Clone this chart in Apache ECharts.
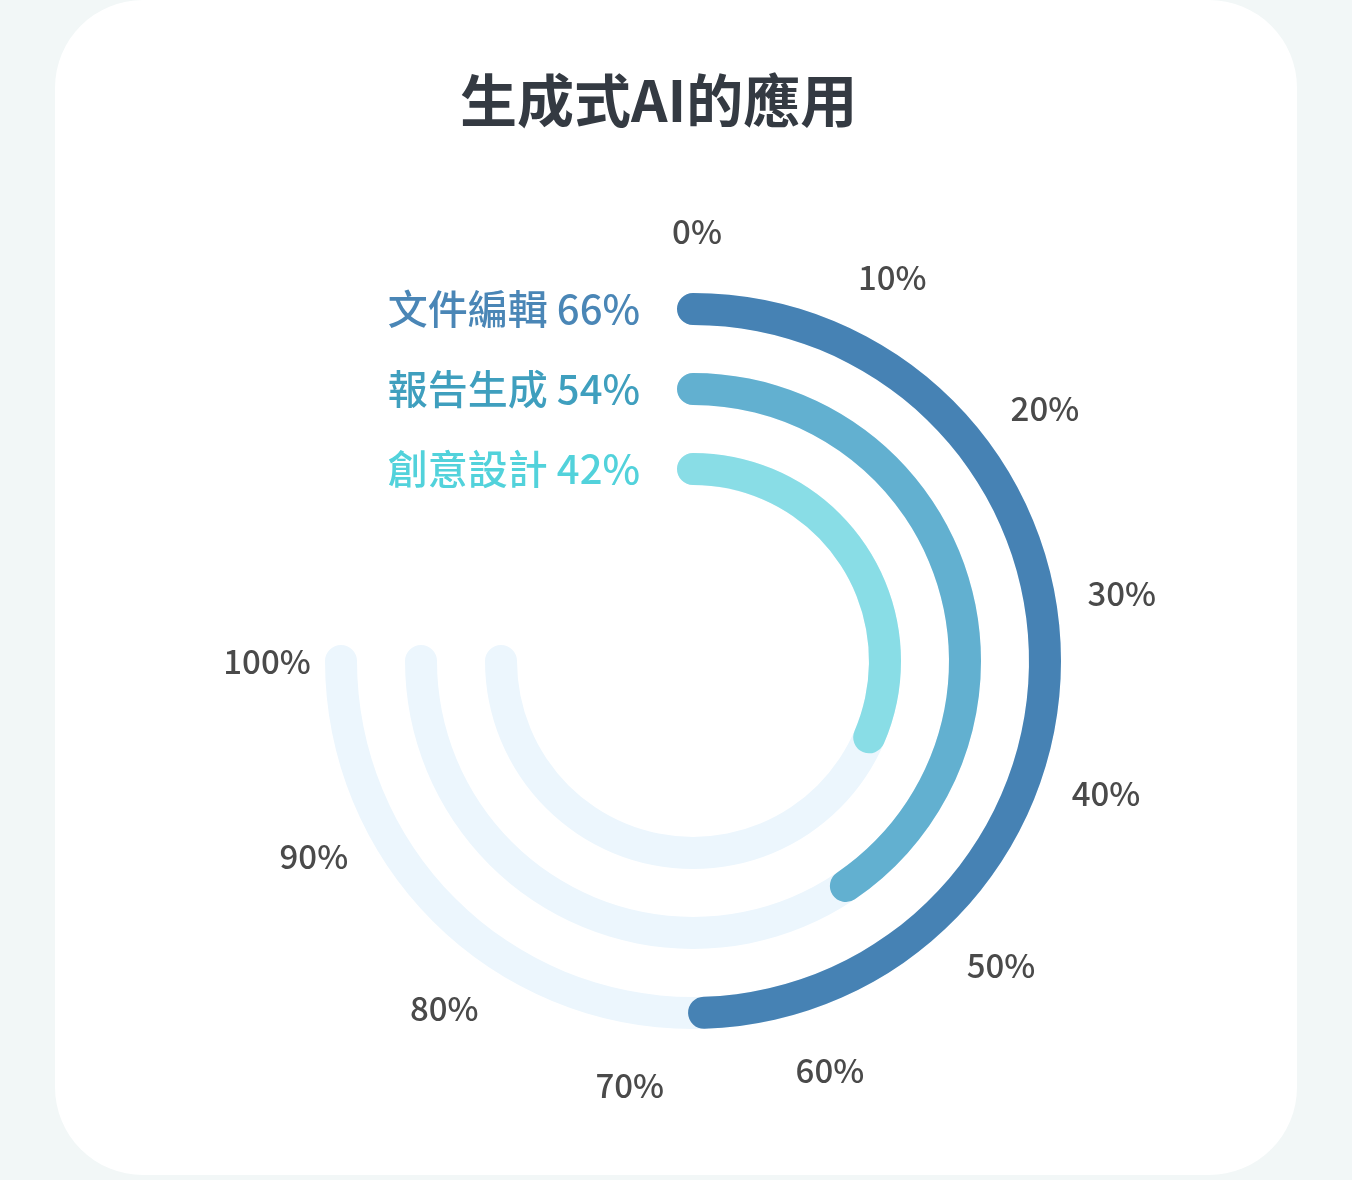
<!DOCTYPE html>
<html>
<head>
<meta charset="utf-8">
<script src="https://cdn.jsdelivr.net/npm/echarts@6/dist/echarts.min.js"></script>
<style>
  html, body { margin: 0; padding: 0; background: #f2f7f7; }
  #card {
    position: absolute; left: 55px; top: 0; width: 1242px; height: 1175px;
    background: #ffffff; border-radius: 88px;
  }
  #chart { position: absolute; left: 0; top: 0; width: 1352px; height: 1180px; }
</style>
</head>
<body>
<div id="card"></div>
<div id="chart"></div>
<script>
// 類別由內而外
const categories = ['創意設計', '報告生成', '文件編輯'];
const values = [42, 54, 66];
const trackValues = [100, 100, 100];
const barColors = ['#89dde6', '#62b0d0', '#4682b4'];
const labelColors = ['#52d2db', '#3f9fbe', '#4a86b6'];
const tickValues = [0, 10, 20, 30, 40, 50, 60, 70, 80, 90, 100];

const Chart = echarts.init(document.getElementById('chart'));

// 刻度文字置中在同一圈上（angleAxis 自帶的 label 會靠邊對齊）
const hiddenAxis = {
    axisLine: { show: false },
    axisTick: { show: false },
    splitLine: { show: false },
    axisLabel: { show: false }
};

const option = {
    backgroundColor: 'transparent',
    textStyle: { fontFamily: '"Noto Sans CJK TC", "Noto Sans", sans-serif' },
    title: {
        text: '生成式AI的應用',
        left: 455,
        top: 67,
        textStyle: { fontSize: 57, fontWeight: 'bold', color: '#343a42' }
    },
    polar: [
        { center: [693, 661], radius: [152, 392] },
        { center: [697, 661], radius: [0, 430] }
    ],
    angleAxis: [
        {
            polarIndex: 0,
            type: 'value', min: 0, max: 100,
            startAngle: 90, endAngle: -180, clockwise: true,
            ...hiddenAxis
        },
        {
            polarIndex: 1,
            type: 'value', min: 0, max: 100,
            startAngle: 90, endAngle: -180, clockwise: true,
            ...hiddenAxis
        }
    ],
    radiusAxis: [
        {
            polarIndex: 0,
            type: 'category',
            data: categories.map((c, i) => ({
                value: c,
                textStyle: { color: labelColors[i] }
            })),
            axisLine: { show: false },
            axisTick: { show: false },
            splitLine: { show: false },
            axisLabel: {
                interval: 0,
                margin: 53,
                fontSize: 40,
                fontWeight: 500,
                formatter: v => v + ' ' + values[categories.indexOf(v)] + '%'
            },
            z: 10
        },
        {
            polarIndex: 1,
            type: 'value', min: 0, max: 1,
            ...hiddenAxis
        }
    ],
    series: [
        {
            type: 'bar',
            coordinateSystem: 'polar',
            polarIndex: 0,
            data: trackValues,
            barWidth: 32,
            barGap: '-100%',
            roundCap: true,
            silent: true,
            itemStyle: { color: '#ecf6fd' },
            z: 1
        },
        {
            type: 'bar',
            coordinateSystem: 'polar',
            polarIndex: 0,
            data: values.map((v, i) => ({ value: v, itemStyle: { color: barColors[i] } })),
            barWidth: 32,
            barGap: '-100%',
            roundCap: true,
            z: 2
        },
        {
            type: 'scatter',
            coordinateSystem: 'polar',
            polarIndex: 1,
            data: tickValues.map(v => [1, v]),
            symbolSize: 1,
            silent: true,
            itemStyle: { color: 'rgba(0,0,0,0)', opacity: 1 },
            label: {
                show: true,
                position: 'inside',
                fontSize: 33,
                fontWeight: 500,
                color: '#4a4a4a',
                formatter: p => p.value[1] + '%'
            }
        }
    ]
};

Chart.setOption(option);
window.onresize = () => { Chart.resize(); };
</script>
</body>
</html>
